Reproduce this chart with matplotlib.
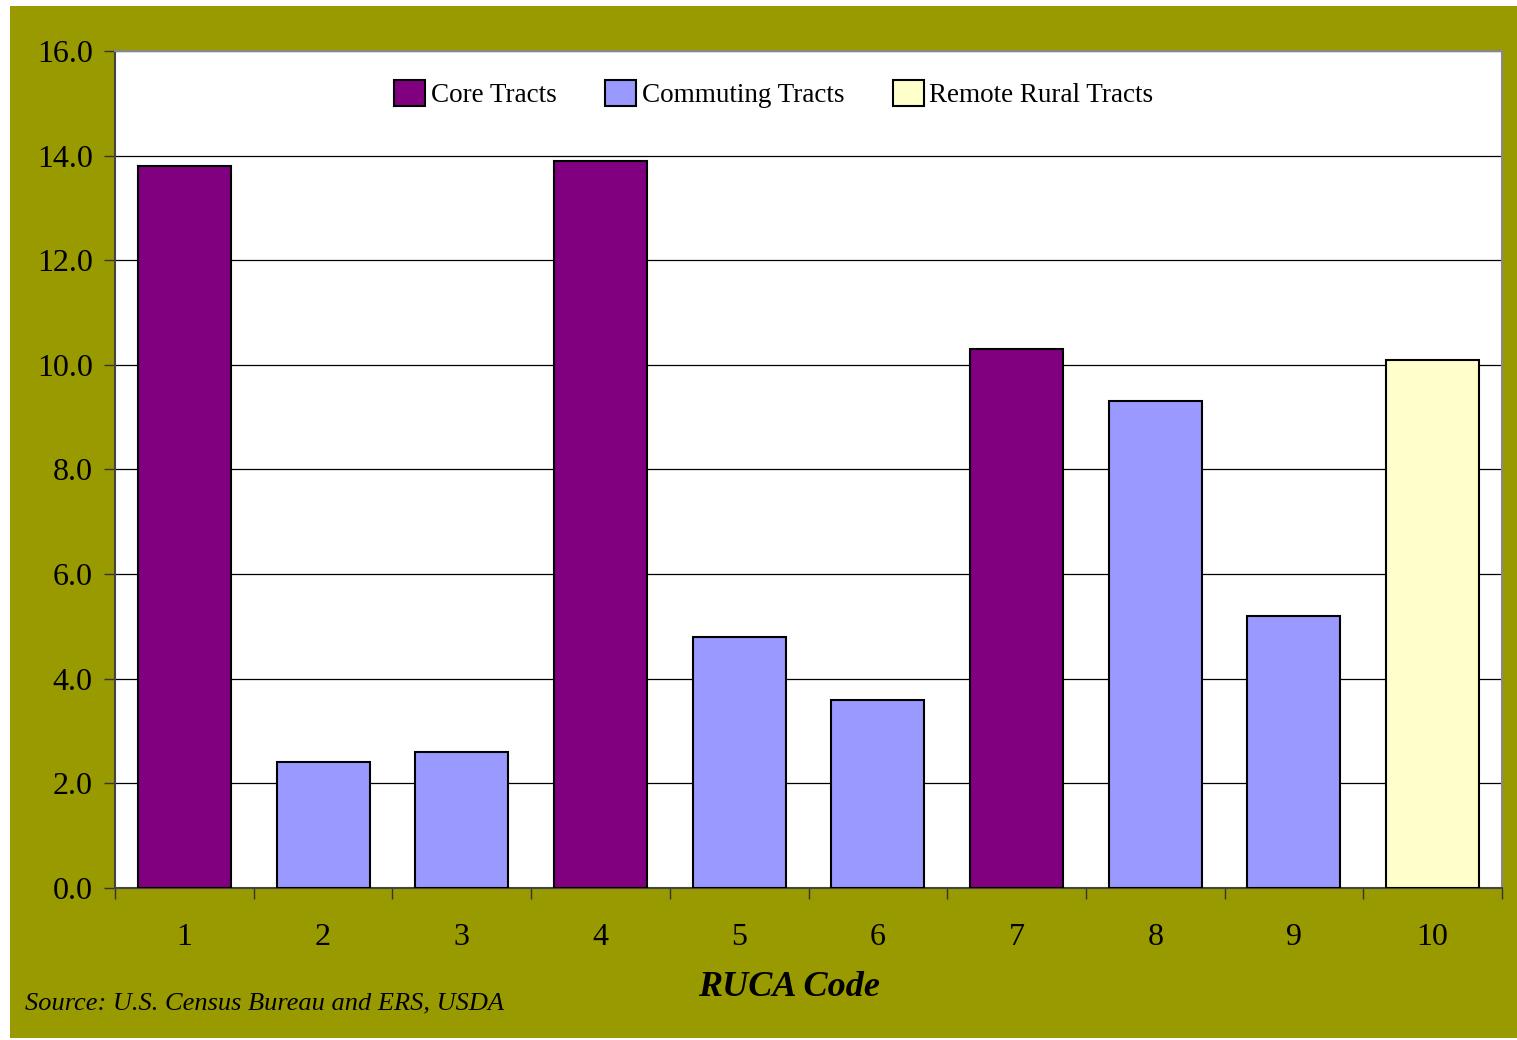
import matplotlib.pyplot as plt
from matplotlib.patches import Rectangle, Patch
import numpy as np

plt.rcParams['font.family'] = ['Liberation Serif', 'DejaVu Serif']

# 数据
codes = ['1', '2', '3', '4', '5', '6', '7', '8', '9', '10']
values = [13.8, 2.4, 2.6, 13.9, 4.8, 3.6, 10.3, 9.3, 5.2, 10.1]
groups = ['core', 'comm', 'comm', 'core', 'comm', 'comm', 'core', 'comm', 'comm', 'remote']

colors = {'core': '#800080', 'comm': '#9999FF', 'remote': '#FFFFCC'}
names = {'core': 'Core Tracts', 'comm': 'Commuting Tracts', 'remote': 'Remote Rural Tracts'}

fig = plt.figure(figsize=(15.17, 10.40), dpi=100)
fig.patch.set_facecolor('white')
# 橄榄色背景
fig.patches.append(Rectangle((10 / 1517, 2 / 1040), 1507 / 1517, 1032 / 1040,
                             transform=fig.transFigure, facecolor='#999900',
                             edgecolor='none', zorder=-10))

ax = fig.add_axes([115 / 1517, 1 - 888 / 1040, 1387 / 1517, 837 / 1040])
ax.set_facecolor('white')

x = np.arange(1, len(codes) + 1)
ax.bar(x, values, width=0.67, color=[colors[g] for g in groups],
       edgecolor='black', linewidth=1.5, zorder=3)

ax.set_xlim(0.5, 10.5)
ax.set_ylim(0, 16)
ax.set_yticks(np.arange(0, 16.1, 2))
ax.set_yticklabels(['%.1f' % v for v in np.arange(0, 16.1, 2)], fontsize=23)
ax.yaxis.grid(True, color='black', linewidth=0.9, zorder=0)

ax.set_xticks(np.arange(0.5, 10.6, 1))
ax.set_xticklabels([])
ax.set_xticks(x, minor=True)
ax.set_xticklabels(codes, minor=True, fontsize=23)
ax.tick_params(axis='x', which='major', length=8, width=1, direction='out', color='#333333')
ax.tick_params(axis='x', which='minor', length=0, pad=25)
ax.tick_params(axis='y', length=8, width=1, direction='out', color='#333333', pad=8)

for s in ['top', 'right']:
    ax.spines[s].set_color('#888888')
    ax.spines[s].set_linewidth(1.5)
for s in ['left', 'bottom']:
    ax.spines[s].set_color('#444444')
    ax.spines[s].set_linewidth(1.5)

handles = [Patch(facecolor=colors[k], edgecolor='black', linewidth=1.5, label=names[k])
           for k in ['core', 'comm', 'remote']]
leg = ax.legend(handles=handles, loc='upper center', bbox_to_anchor=(0.475, 0.995),
                ncol=3, frameon=False, fontsize=19.5, handlelength=1.15, handleheight=1.15,
                handletextpad=0.2, columnspacing=1.8)

fig.text(789 / 1517, 1 - 987 / 1040, 'RUCA Code', fontsize=26, fontweight='bold',
         fontstyle='italic', ha='center', va='center')
fig.text(25 / 1517, 1 - 1003 / 1040, 'Source: U.S. Census Bureau and ERS, USDA',
         fontsize=19, fontstyle='italic', ha='left', va='center')

plt.savefig('out.png', dpi=100, facecolor=fig.get_facecolor())
plt.close()
